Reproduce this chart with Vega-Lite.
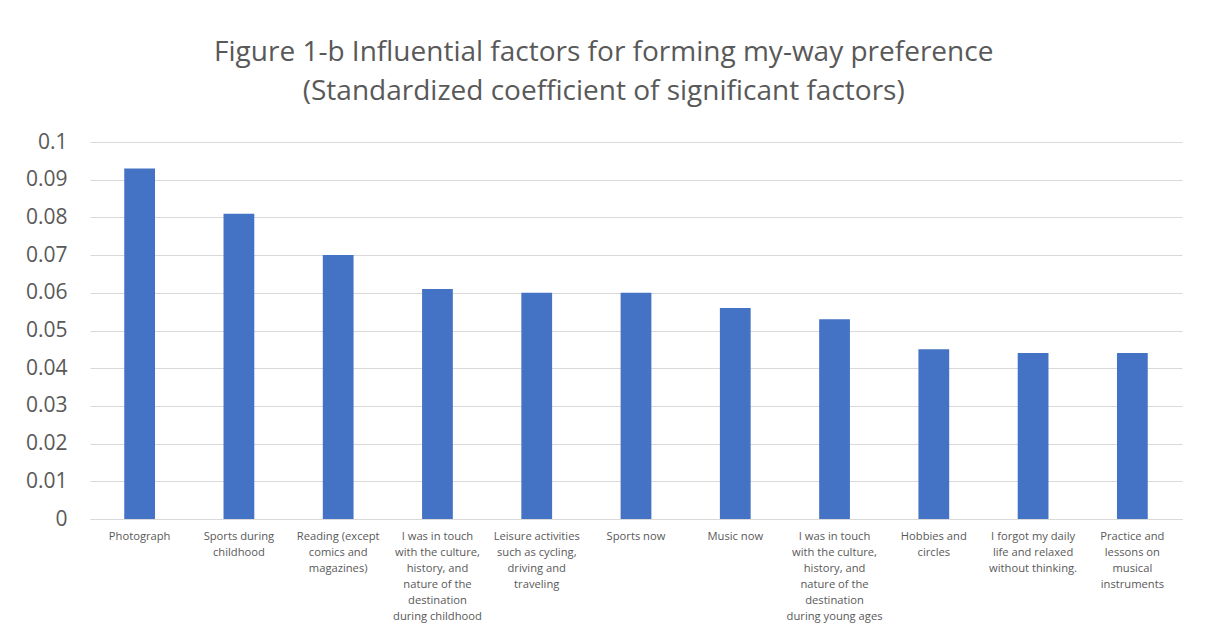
{
  "$schema": "https://vega.github.io/schema/vega-lite/v6.json",
  "autosize": {"type": "none"},
  "width": 1092,
  "height": 377,
  "padding": {"left": 90, "top": 142, "right": 28, "bottom": 115},
  "background": "white",
  "title": {
    "text": ["Figure 1-b Influential factors for forming my-way preference", "(Standardized coefficient of significant factors)"],
    "anchor": "middle",
    "frame": "bounds",
    "font": "Open Sans",
    "fontSize": 28,
    "fontWeight": "normal",
    "color": "#595959",
    "lineHeight": 39,
    "offset": 25
  },
  "data": {
    "values": [
      {"factor": "Photograph", "value": 0.093},
      {"factor": "Sports during|childhood", "value": 0.081},
      {"factor": "Reading (except|comics and|magazines)", "value": 0.070},
      {"factor": "I was in touch|with the culture,|history, and|nature of the|destination|during childhood", "value": 0.061},
      {"factor": "Leisure activities|such as cycling,|driving and|traveling", "value": 0.060},
      {"factor": "Sports now", "value": 0.060},
      {"factor": "Music now", "value": 0.056},
      {"factor": "I was in touch|with the culture,|history, and|nature of the|destination|during young ages", "value": 0.053},
      {"factor": "Hobbies and|circles", "value": 0.045},
      {"factor": "I forgot my daily|life and relaxed|without thinking.", "value": 0.044},
      {"factor": "Practice and|lessons on|musical|instruments", "value": 0.044}
    ]
  },
  "mark": {"type": "bar", "color": "#4472C4"},
  "encoding": {
    "x": {
      "field": "factor",
      "type": "nominal",
      "sort": null,
      "scale": {"paddingInner": 0.69, "paddingOuter": 0.345},
      "axis": {
        "title": null,
        "labelAngle": 0,
        "labelExpr": "split(datum.label, '|')",
        "labelFont": "Open Sans",
        "labelFontSize": 11.2,
        "labelColor": "#595959",
        "labelLineHeight": 16,
        "labelPadding": 11,
        "labelBaseline": "top",
        "labelLimit": 200,
        "ticks": false,
        "domainColor": "#D9D9D9",
        "domainWidth": 1,
        "grid": false
      }
    },
    "y": {
      "field": "value",
      "type": "quantitative",
      "scale": {"domain": [0, 0.1], "nice": false},
      "axis": {
        "title": null,
        "values": [0, 0.01, 0.02, 0.03, 0.04, 0.05, 0.06, 0.07, 0.08, 0.09, 0.1],
        "labelExpr": "datum.value == 0 ? '0' : format(datum.value, '.2~f')",
        "labelFont": "Open Sans",
        "labelFontSize": 21,
        "labelColor": "#595959",
        "labelPadding": 23,
        "ticks": false,
        "domain": false,
        "gridColor": "#D9D9D9",
        "gridWidth": 1
      }
    }
  },
  "config": {"view": {"stroke": null}}
}
